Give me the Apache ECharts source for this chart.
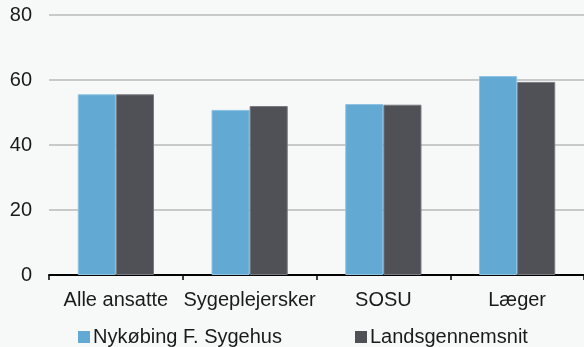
<!DOCTYPE html>
<html>
<head>
<meta charset="utf-8">
<script src="https://cdn.jsdelivr.net/npm/echarts@6/dist/echarts.min.js"></script>
<style>
  html, body { margin: 0; padding: 0; background: #f7f9f9; }
  #chart { width: 584px; height: 347px; }
</style>
</head>
<body>
<div id="chart"></div>
<script>
// Job groups on the x axis
const categories = ['Alle ansatte', 'Sygeplejersker', 'SOSU', 'Læger'];
// Local hospital vs. national average
const seriesNames = ['Nykøbing F. Sygehus', 'Landsgennemsnit'];
const nykobingValues = [55.6, 50.8, 52.6, 61.2];
const landsValues = [55.6, 52.0, 52.4, 59.4];
// Value axis ticks
const yTicks = [0, 20, 40, 60, 80];

const FONT = '"Liberation Sans", Arial, sans-serif';
const TEXT = '#1a1a1a';
const FS = 20;

const legendBase = {
  padding: 0,
  icon: 'rect', itemWidth: 12, itemHeight: 12, itemGap: 0,
  itemStyle: { borderWidth: 0 },
  textStyle: { fontFamily: FONT, fontSize: FS, color: TEXT, padding: [0, 0, 0, -2] }
};

const chart = echarts.init(document.getElementById('chart'), null, { renderer: 'canvas' });

chart.setOption({
  backgroundColor: '#f7f9f9',
  animation: false,
  textStyle: { fontFamily: FONT, color: TEXT },
  grid: { left: 49, right: -5, top: 15, bottom: 72, containLabel: false },
  legend: [
    Object.assign({ data: [seriesNames[0]], left: 78, top: 327 }, legendBase),
    Object.assign({ data: [seriesNames[1]], left: 355, top: 327 }, legendBase)
  ],
  xAxis: {
    type: 'category',
    data: categories,
    axisLine: { lineStyle: { color: '#000', width: 2 } },
    axisTick: { show: true, length: 5, lineStyle: { color: '#000', width: 1.5 } },
    axisLabel: { fontFamily: FONT, fontSize: FS, color: TEXT, margin: 15, interval: 0 }
  },
  yAxis: {
    type: 'value',
    min: yTicks[0],
    max: yTicks[yTicks.length - 1],
    interval: yTicks[1] - yTicks[0],
    axisLine: { show: false },
    axisTick: { show: false },
    axisLabel: { fontFamily: FONT, fontSize: FS, color: TEXT, margin: 17 },
    splitLine: { lineStyle: { color: '#b8b9b9', width: 1.5 } }
  },
  series: [
    {
      name: seriesNames[0],
      type: 'bar',
      data: nykobingValues,
      barGap: '0%',
      barCategoryGap: '43%',
      itemStyle: { color: '#62a9d4', borderColor: '#8cc2e2', borderWidth: 1 }
    },
    {
      name: seriesNames[1],
      type: 'bar',
      data: landsValues,
      itemStyle: { color: '#505156', borderColor: '#7a7b80', borderWidth: 1 }
    }
  ]
});
</script>
</body>
</html>
